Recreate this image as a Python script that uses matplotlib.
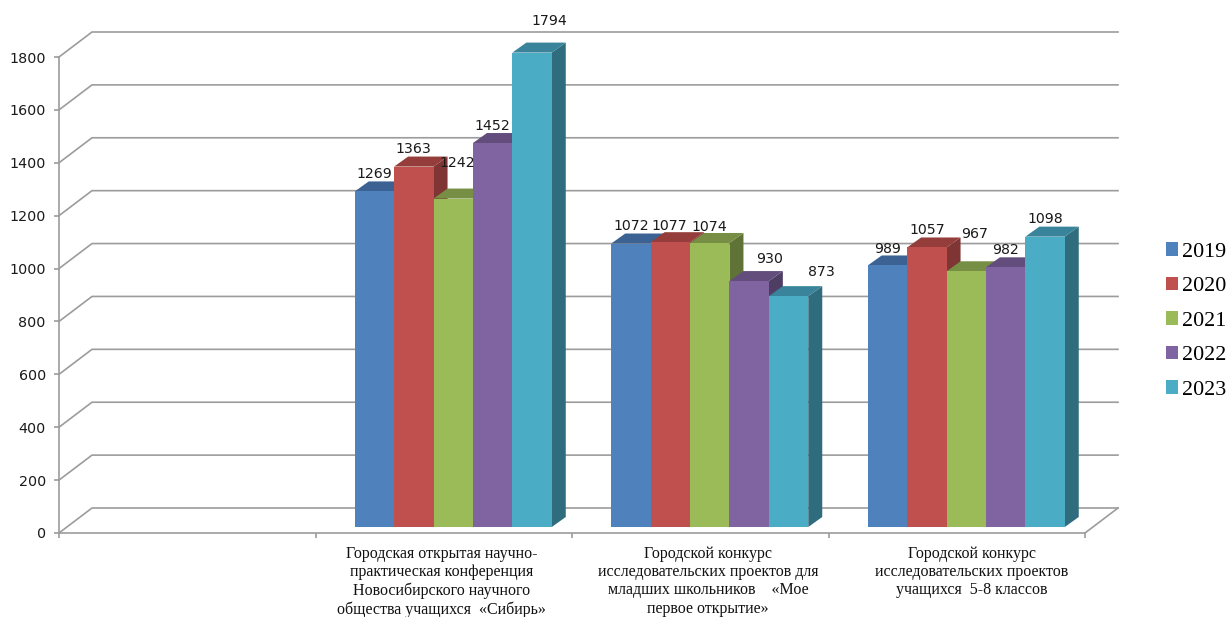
#!/usr/bin/python
# -*- coding: utf-8 -*-

import matplotlib
matplotlib.use('Agg')
import matplotlib.pyplot as plt
from matplotlib.patches import Patch
from matplotlib.transforms import ScaledTranslation


YEARS = ['2019', '2020', '2021', '2022', '2023']
CATEGORIES = [
    '',
    'Городская открытая научно-\nпрактическая конференция\nНовосибирского научного\nобщества учащихся  «Сибирь»',
    'Городской конкурс\nисследовательских проектов для\nмладших школьников    «Мое\nпервое открытие»',
    'Городской конкурс\nисследовательских проектов\nучащихся  5-8 классов',
]
V_2019 = [None, 1269, 1072, 989]
V_2020 = [None, 1363, 1077, 1057]
V_2021 = [None, 1242, 1074, 967]
V_2022 = [None, 1452, 930, 982]
V_2023 = [None, 1794, 873, 1098]
SERIES = [V_2019, V_2020, V_2021, V_2022, V_2023]
Y_TICKS = [0, 200, 400, 600, 800, 1000, 1200, 1400, 1600, 1800]

FRONT = ['#4F81BD', '#C0504D', '#9BBB59', '#8064A2', '#4BACC6']
TOP = ['#3B6292', '#943D3B', '#768F44', '#624D7C', '#39849A']
SIDE = ['#2E4C72', '#7E3533', '#5F7337', '#4E3E63', '#2F6C7D']
GRID = '#9C9C9C'

# picture px -> data units
PX_X = 4 / 1026
PX_Y = 1800 / 476
WALL_DX, WALL_DY = 33 * PX_X, 25 * PX_Y
BAR_DX, BAR_DY = 14 * PX_X, 10 * PX_Y
BAR_BASE = 6 * PX_Y
BAR_W = 39.4 * PX_X
GROUP_SHIFT = 9.5 * PX_X

# label offset from the front top centre of a bar, px (right, up)
LABEL_OFFSETS = {
    1: [(0, 17), (0, 18), (4, 36), (0, 17), (17, 32)],
    2: [(0, 18), (-1, 16), (0, 16), (20, 22), (33, 24)],
    3: [(0, 16), (0, 17), (8, 37), (0, 17), (0, 18)],
}
CATEGORY_SHIFT = [0, -2, 8, 15]

plt.rcParams['font.family'] = ['DejaVu Sans']
SERIF = 'Liberation Serif'

fig = plt.figure(figsize=(12.3, 6.17), dpi=100)
ax = fig.add_axes([59 / 1230, (617 - 533) / 617, 1026 / 1230, 476 / 617])
ax.set_xlim(0, 4)
ax.set_ylim(0, 1800)

for s in ['top', 'right']:
    ax.spines[s].set_visible(False)
for s in ['left', 'bottom']:
    ax.spines[s].set_color(GRID)
    ax.spines[s].set_linewidth(1.2)

# gridlines run over the side wall and along the back wall
for t in Y_TICKS:
    ax.plot([0, WALL_DX, 4 + WALL_DX], [t, t + WALL_DY, t + WALL_DY],
            color=GRID, lw=1.2, clip_on=False, zorder=1)
ax.plot([4, 4 + WALL_DX], [0, WALL_DY], color=GRID, lw=1.2, clip_on=False, zorder=1)

for c in range(1, len(CATEGORIES)):
    for i, vals in enumerate(SERIES):
        v = vals[c]
        x0 = c + 0.5 + GROUP_SHIFT + (i - 2.5) * BAR_W
        x1 = x0 + BAR_W
        y0 = BAR_BASE
        y1 = BAR_BASE + v
        z = 3 + i
        ax.fill([x1, x1 + BAR_DX, x1 + BAR_DX, x1],
                [y0, y0 + BAR_DY, y1 + BAR_DY, y1],
                color=SIDE[i], lw=0, clip_on=False, zorder=z)
        ax.fill([x0, x0 + BAR_DX, x1 + BAR_DX, x1],
                [y1, y1 + BAR_DY, y1 + BAR_DY, y1],
                color=TOP[i], lw=0, clip_on=False, zorder=z)
        ax.bar(x0, v, width=BAR_W, bottom=y0, align='edge', color=FRONT[i],
               lw=0, clip_on=False, zorder=z)

for c in range(1, len(CATEGORIES)):
    for i, vals in enumerate(SERIES):
        v = vals[c]
        cx = c + 0.5 + GROUP_SHIFT + (i - 2) * BAR_W
        dx, dy = LABEL_OFFSETS[c][i]
        ax.annotate(str(v), (cx, BAR_BASE + v),
                    xytext=(dx * 0.72, dy * 0.72), textcoords='offset points',
                    ha='center', va='center', fontsize=10.2, color='#1A1A1A',
                    annotation_clip=False, zorder=20)

ax.set_yticks(Y_TICKS)
ax.tick_params(axis='y', length=3.5, width=1.2, color=GRID, labelsize=10.3,
               labelcolor='#1A1A1A', pad=6)

ax.set_xticks(range(5))
ax.set_xticklabels([])
ax.tick_params(axis='x', which='major', length=3.5, width=1.2, color=GRID)
ax.set_xticks([i + 0.5 for i in range(4)], minor=True)
ax.set_xticklabels(CATEGORIES, minor=True, family=SERIF, fontsize=11.5,
                   color='#111111', linespacing=1.2)
ax.tick_params(axis='x', which='minor', length=0, pad=9)
for lbl, dx in zip(ax.get_xticklabels(minor=True), CATEGORY_SHIFT):
    lbl.set_transform(lbl.get_transform()
                      + ScaledTranslation(dx / 100, 0, fig.dpi_scale_trans))

handles = [Patch(color=col, lw=0) for col in FRONT]
fig.legend(handles, YEARS, loc='center left',
           bbox_to_anchor=(1166 / 1230, 1 - 321 / 617),
           frameon=False, prop={'family': SERIF, 'size': 15.8},
           handlelength=0.55, handleheight=0.55, handletextpad=0.2,
           labelspacing=0.69, borderpad=0, borderaxespad=0)

fig.savefig('out.png', dpi=100)
